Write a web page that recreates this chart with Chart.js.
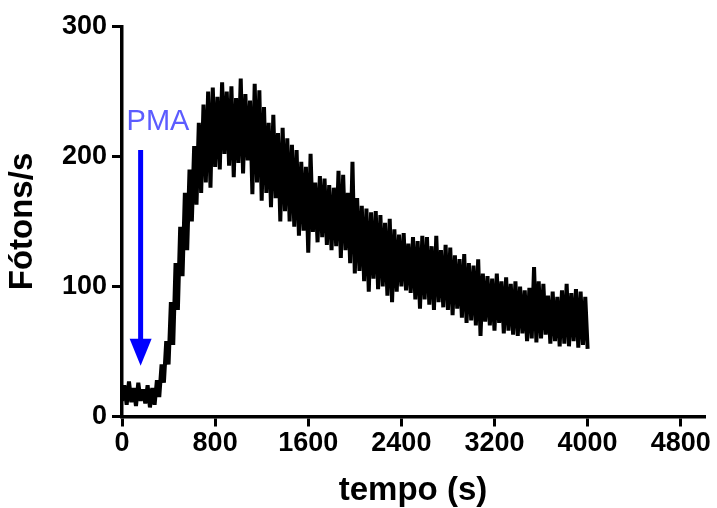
<!DOCTYPE html>
<html>
<head>
<meta charset="utf-8">
<script src="https://cdn.jsdelivr.net/npm/chart.js@4"></script>
<style>
  html, body { margin: 0; padding: 0; background: #fff; }
</style>
</head>
<body>
<canvas id="grafico" width="717" height="508"></canvas>
<script>
// leitura de fotons, uma amostra a cada 20 s (vale / pico alternados)
const passoTempo = 20;
const fotons = [
  12, 24, 9, 27, 11, 22, 8, 26, 12, 21,
  10, 24, 7, 22, 9, 28, 15, 40, 26, 58,
  40, 88, 55, 118, 82, 146, 108, 172, 128, 190,
  150, 208, 163, 226, 172, 240, 180, 250, 176, 253,
  192, 246, 190, 257, 202, 250, 193, 254, 184, 245,
  195, 260, 187, 248, 197, 243, 171, 256, 180, 251,
  166, 238, 172, 226, 161, 232, 168, 218, 150, 222,
  158, 214, 150, 209, 146, 205, 139, 196, 143, 192,
  126, 202, 142, 180, 134, 185, 138, 183, 132, 178,
  128, 176, 131, 189, 122, 186, 128, 172, 118, 196,
  110, 168, 112, 162, 104, 160, 96, 157, 106, 158,
  98, 155, 100, 149, 93, 152, 88, 144, 96, 140,
  100, 141, 97, 133, 95, 138, 90, 135, 83, 139,
  90, 138, 86, 131, 82, 139, 88, 128, 84, 132,
  82, 130, 78, 124, 83, 121, 76, 125, 72, 118,
  74, 116, 70, 121, 62, 110, 73, 108, 70, 106,
  66, 110, 72, 104, 64, 107, 66, 102, 63, 104,
  62, 100, 64, 97, 58, 99, 60, 115, 57, 104,
  60, 102, 63, 93, 56, 96, 58, 92, 54, 97,
  56, 102, 54, 95, 58, 98, 53, 96, 55, 92,
  52
];

const xTicks = [0, 800, 1600, 2400, 3200, 4000, 4800];
const yTicks = [0, 100, 200, 300];

// seta do PMA (tempo, valor de cima, valor da ponta)
const pmaTempo = 160;
const pmaTopo = 205;
const pmaPonta = 39;

const pontos = fotons.map((v, i) => ({x: i * passoTempo, y: v}));

const fonteTicks = {family: "'Liberation Sans', Arial", size: 27, weight: 'bold', lineHeight: 1};
const fonteTitulo = {family: "'Liberation Sans', Arial", size: 33, weight: 'bold', lineHeight: 1};

// desenha a seta azul e o texto PMA
const setaPMA = {
  id: 'setaPMA',
  afterDatasetsDraw(chart) {
    const ctx = chart.ctx;
    const x = chart.scales.x.getPixelForValue(pmaTempo);
    const y1 = chart.scales.y.getPixelForValue(pmaTopo);
    const y2 = chart.scales.y.getPixelForValue(pmaPonta);
    ctx.save();
    ctx.strokeStyle = '#0000ff';
    ctx.fillStyle = '#0000ff';
    ctx.lineWidth = 5;
    ctx.beginPath();
    ctx.moveTo(x, y1);
    ctx.lineTo(x, y2 - 20);
    ctx.stroke();
    ctx.beginPath();
    ctx.moveTo(x - 11, y2 - 27);
    ctx.lineTo(x + 11, y2 - 27);
    ctx.lineTo(x, y2);
    ctx.closePath();
    ctx.fill();
    ctx.fillStyle = '#5c5cff';
    ctx.font = "29px 'Liberation Sans', Arial";
    ctx.textAlign = 'left';
    ctx.textBaseline = 'alphabetic';
    ctx.fillText('PMA', x - 14, y1 - 20);
    ctx.restore();
  }
};

new Chart(document.getElementById('grafico'), {
  type: 'line',
  data: {
    datasets: [{
      label: 'Fótons/s',
      data: pontos,
      borderColor: '#000',
      borderWidth: 4,
      borderJoinStyle: 'bevel',
      pointRadius: 0,
      tension: 0
    }]
  },
  options: {
    responsive: false,
    animation: false,
    events: [],
    layout: {padding: {top: 26.5, right: 13, left: 0, bottom: 0}},
    plugins: {legend: {display: false}, tooltip: {enabled: false}},
    scales: {
      x: {
        type: 'linear',
        min: 0,
        max: 5000,
        afterBuildTicks: (axis) => { axis.ticks = xTicks.map(v => ({value: v})); },
        afterFit: (scale) => { scale.height = 91.5; },
        border: {display: true, color: '#000', width: 3.5},
        grid: {display: true, drawOnChartArea: false, drawTicks: true, tickLength: 10, color: '#000', lineWidth: 3},
        ticks: {color: '#000', font: fonteTicks, padding: 4, maxRotation: 0, autoSkip: false, callback: (v) => String(v)},
        title: {display: true, text: 'tempo (s)', color: '#000', font: fonteTitulo, padding: {top: 0, bottom: 1}}
      },
      y: {
        min: 0,
        max: 300,
        afterBuildTicks: (axis) => { axis.ticks = yTicks.map(v => ({value: v})); },
        afterFit: (scale) => { scale.width = 122; },
        border: {display: true, color: '#000', width: 3.5},
        grid: {display: true, drawOnChartArea: false, drawTicks: true, tickLength: 10, color: '#000', lineWidth: 3},
        ticks: {color: '#000', font: fonteTicks, padding: 5, callback: (v) => String(v)},
        title: {display: true, text: 'Fótons/s', color: '#000', font: fonteTitulo, padding: {top: 6, bottom: 0}}
      }
    }
  },
  plugins: [setaPMA]
});
</script>
</body>
</html>
